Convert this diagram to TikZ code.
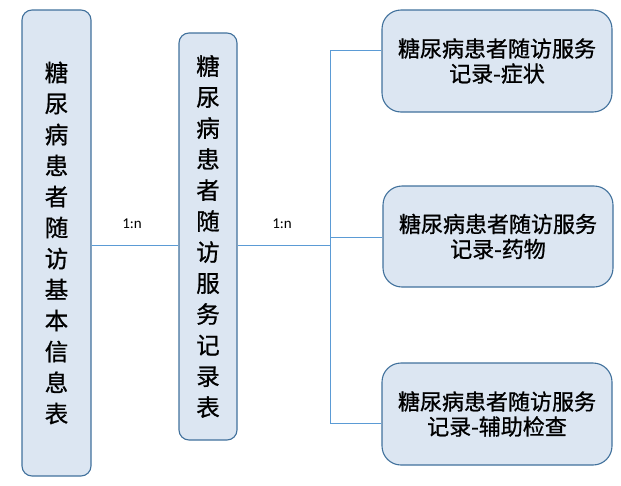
\documentclass[tikz,border=0pt]{standalone}
\usepackage{fontspec}
\setmainfont{Carlito}
\newfontfamily\cjk[FakeBold=0.8]{Noto Sans CJK SC}
\definecolor{boxfill}{HTML}{DCE6F2}
\definecolor{boxline}{HTML}{41719C}
\definecolor{linkline}{HTML}{5B9BD5}
\begin{document}
\begin{tikzpicture}[x=1pt,y=-1pt,
  tablebox/.style={draw=boxline, fill=boxfill, line width=1.1pt, inner sep=0pt,
    align=center, text=black},
  tallbox/.style={tablebox, rounded corners=10pt,
    font=\cjk\fontsize{23.5}{31}\selectfont},
  widebox/.style={tablebox, rounded corners=19pt, minimum width=230pt, minimum height=102pt,
    font=\cjk\fontsize{22}{25}\selectfont},
  link/.style={draw=linkline, line width=0.9pt},
  ratio/.style={font=\fontsize{15}{16}\selectfont, inner sep=0pt}]
\useasboundingbox (0,0) rectangle (621,485);

% main tables
\node[tallbox, minimum width=69pt, minimum height=466pt] (base) at (56.5,243)
  {糖\\尿\\病\\患\\者\\随\\访\\基\\本\\信\\息\\表};
\node[tallbox, minimum width=58pt, minimum height=407pt] (visit) at (208,236.5)
  {糖\\尿\\病\\患\\者\\随\\访\\服\\务\\记\\录\\表};

% detail tables
\node[widebox] (sym) at (497,61) {糖尿病患者随访服务\\记录-症状};
\node[widebox, minimum height=101pt] (drug) at (498,236.5) {糖尿病患者随访服务\\记录-药物};
\node[widebox] (exam) at (497,414) {糖尿病患者随访服务\\记录-辅助检查};

% connectors
\coordinate (j1) at (330,245);
\coordinate (t1) at (330,50);
\coordinate (t2) at (330,237);
\coordinate (t3) at (330,423);
\draw[link] (base.east |- j1) -- (visit.west |- j1);
\draw[link] (visit.east |- j1) -- (j1);
\draw[link] (t1) -- (t3);
\draw[link] (t1) -- (sym.west |- t1);
\draw[link] (t2) -- (drug.west |- t2);
\draw[link] (t3) -- (exam.west |- t3);

% cardinality labels
\node[ratio] (r1) at (132,224) {1:n};
\node[ratio] (r2) at (282,224) {1:n};
\end{tikzpicture}
\end{document}
